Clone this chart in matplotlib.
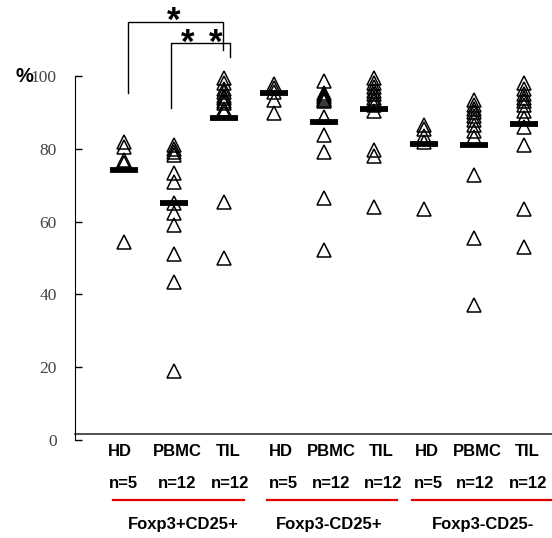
import matplotlib
matplotlib.use("Agg")
import matplotlib.pyplot as plt
import matplotlib.transforms as mtransforms

# values (%)
hd_pos_pos = [82.0, 80.6, 76.9, 76.0, 54.4]
pbmc_pos_pos = [81.0, 80.0, 79.0, 78.2, 73.3, 71.0, 65.0, 62.3, 59.0, 51.0, 43.5, 19.0]
til_pos_pos = [99.5, 98.0, 96.5, 95.5, 94.5, 94.0, 93.0, 92.5, 91.0, 90.0, 65.5, 50.0]

hd_neg_pos = [97.7, 96.6, 95.5, 93.4, 89.7]
pbmc_neg_pos = [98.6, 95.2, 94.7, 94.2, 93.8, 93.3, 93.0, 88.8, 83.8, 79.0, 66.6, 52.2]
til_neg_pos = [99.4, 98.0, 97.0, 96.0, 95.0, 94.0, 93.0, 92.0, 90.5, 79.8, 77.9, 63.9]

hd_neg_neg = [86.5, 85.5, 83.5, 82.0, 63.5]
pbmc_neg_neg = [93.4, 92.0, 91.0, 90.0, 89.0, 88.0, 86.5, 85.0, 83.2, 72.9, 55.6, 37.1]
til_neg_neg = [98.0, 96.5, 95.0, 94.0, 93.0, 92.0, 90.5, 88.5, 86.0, 81.0, 63.5, 53.0]

# horizontal bars (mean)
bar_values = [74.1, 65.1, 88.5, 95.2, 87.3, 90.8, 81.3, 81.0, 86.7]

series = [hd_pos_pos, pbmc_pos_pos, til_pos_pos,
          hd_neg_pos, pbmc_neg_pos, til_neg_pos,
          hd_neg_neg, pbmc_neg_neg, til_neg_neg]

sample_labels = ["HD", "PBMC", "TIL"] * 3
n_labels = ["n=5", "n=12", "n=12"] * 3
group_labels = ["Foxp3+CD25+", "Foxp3-CD25+", "Foxp3-CD25-"]
yticks = [0, 20, 40, 60, 80, 100]

fig = plt.figure(figsize=(5.52, 5.38), dpi=100)
ax = fig.add_axes([75/552, 98/538, 477/552, 364/538])

xpos = list(range(len(series)))
for x, vals in zip(xpos, series):
    ax.plot([x]*len(vals), vals, ls="none", marker="^", ms=10,
            mfc="none", mec="black", mew=1.1, clip_on=False, zorder=3)

ax.hlines(bar_values, [x-0.28 for x in xpos], [x+0.28 for x in xpos],
          color="black", lw=4.2, zorder=4)

ax.set_xlim(-0.98, 8.56)
ax.set_ylim(0, 100)
ax.set_yticks(yticks)
ax.set_yticklabels([str(v) for v in yticks], family="Liberation Serif",
                   fontsize=12.5, color="#444444")
ax.tick_params(axis="y", direction="in", length=5, width=1, pad=13)
ax.set_xticks([])
for s in ["top", "right", "bottom"]:
    ax.spines[s].set_visible(False)
ax.spines["left"].set_bounds(0, 100)
ax.axhline(1.6, color="#333333", lw=1.2, clip_on=False)

# significance brackets
ax.plot([0.08, 0.08, 1.98, 1.98], [95.3, 114.8, 114.8, 107.1],
        color="black", lw=1, clip_on=False)
ax.plot([0.94, 0.94, 2.12, 2.12], [91.2, 109.1, 109.1, 105.2],
        color="black", lw=1, clip_on=False)
for sx, sy in [(1.0, 115.0), (1.28, 109.0), (1.84, 109.0)]:
    ax.text(sx, sy, "*", fontsize=25, fontweight="bold", ha="center",
            va="center", family="Liberation Sans")

fig.text(24/552, 1 - 77/538, "%", fontsize=14.5, fontweight="bold",
         ha="center", va="center", family="Liberation Sans")

# labels under the axis
trans = mtransforms.blended_transform_factory(ax.transData, fig.transFigure)
label_x = [-0.08, 1.06, 2.08, 3.14, 4.14, 5.14, 6.06, 7.06, 8.06]
n_x = [-0.02, 1.06, 2.12, 3.18, 4.14, 5.18, 6.08, 7.02, 8.08]
for lx, nx, lab, nl in zip(label_x, n_x, sample_labels, n_labels):
    ax.text(lx, 86/538, lab, transform=trans, ha="center", va="center",
            fontsize=12, fontweight="bold", family="Liberation Sans")
    ax.text(nx, 55/538, nl, transform=trans, ha="center", va="center",
            fontsize=12, fontweight="bold", family="Liberation Sans")

red_spans = [(-0.22, 2.4), (2.86, 5.46), (5.76, 8.56)]
group_x = [1.18, 4.1, 7.18]
for (x0, x1), gx, g in zip(red_spans, group_x, group_labels):
    ax.plot([x0, x1], [38/538, 38/538], transform=trans, color="#e00000",
            lw=1.6, clip_on=False)
    ax.text(gx, 13/538, g, transform=trans, ha="center", va="center",
            fontsize=12, fontweight="bold", family="Liberation Sans")

fig.savefig("out.png", dpi=100)
